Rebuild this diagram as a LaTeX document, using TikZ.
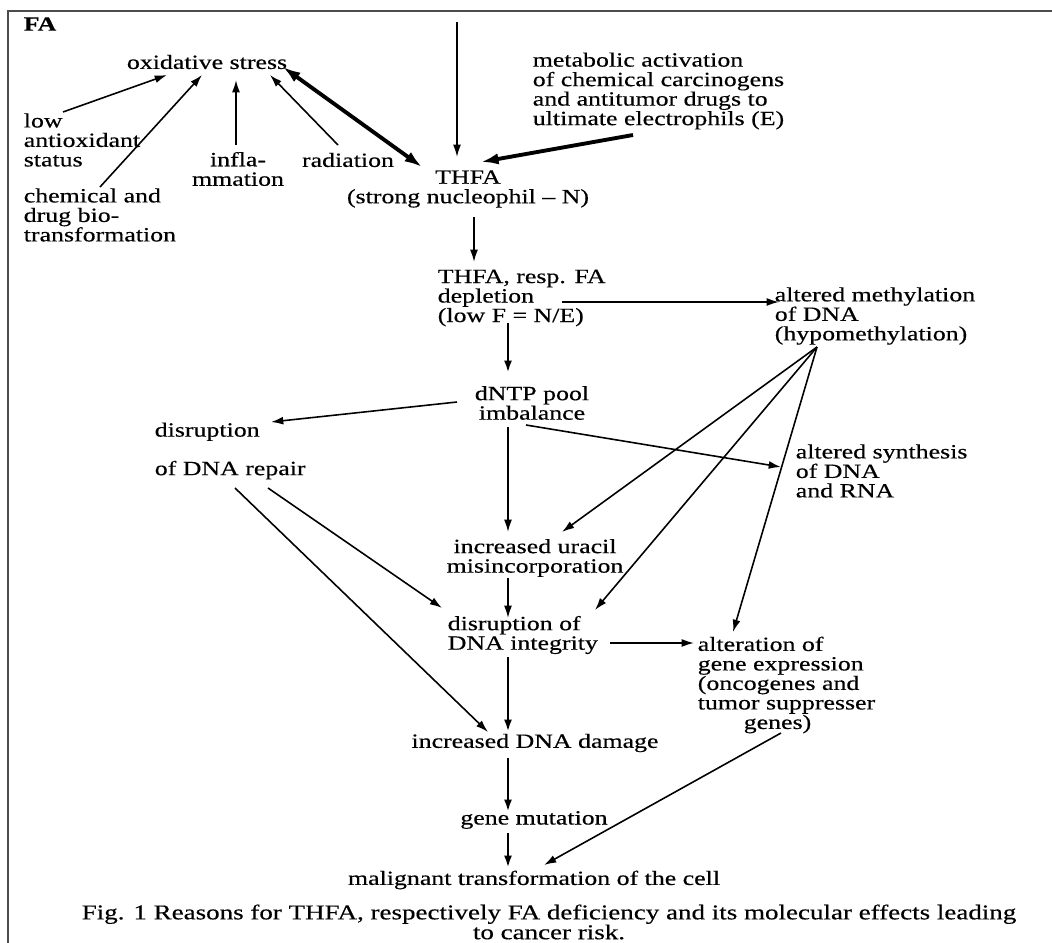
\documentclass[tikz,border=0pt]{standalone}
\usepackage{fontspec}
\setmainfont{Liberation Serif}[FakeStretch=1.28,FakeBold=0.4]
\usepackage{tikz}
\usetikzlibrary{calc,arrows.meta}
\def\txt{\node[inner sep=0pt]}

\begin{document}
\begin{tikzpicture}[x=0.02cm,y=-0.02cm,
  font=\fontsize{11.5}{11.1}\selectfont,
  >={Latex[length=7pt,width=4.5pt]},line width=0.9pt,
  main/.style={line width=1.4pt},
  fat/.style={line width=2.2pt,>={Latex[length=10pt,width=6.5pt]}}]
\useasboundingbox (0,0) rectangle (1052,943);
\draw[line width=1.2pt,black!70] (8,943) -- (8,11) -- (1052,11);
% causes
\txt[anchor=west] (fa) at (23,24) {\bfseries FA};
\txt (ox) at (207,62) {oxidative stress};
\txt[anchor=west,align=left] (low) at (23,140) {low\\antioxidant\\status};
\txt[anchor=west,align=left] (chem) at (23,215) {chemical and\\drug bio-\\transformation};
\txt[align=center] (infla) at (238,169) {infla-\\mmation};
\txt (rad) at (348,160) {radiation};
\txt[align=center] (thfa) at (468,189) {THFA\\(strong nucleophil -- N)};
\txt[anchor=west,align=left] (met) at (532,91) {metabolic activation\\of chemical carcinogens\\and antitumor drugs to\\ultimate electrophils (E)};
\coordinate (src) at (457,22);
% effects
\txt[anchor=west,align=left] (dep) at (437,298) {THFA, resp. FA\\depletion\\(low F = N/E)};
\txt[anchor=west,align=left] (meth) at (774,316) {altered methylation\\of DNA\\(hypomethylation)};
\txt[align=center] (dntp) at (532,403) {dNTP pool\\imbalance};
\txt[anchor=west,align=left] (disr) at (154,451) {disruption\\[0.38cm]of DNA repair};
\txt[anchor=west,align=left] (synth) at (795,471) {altered synthesis\\of DNA\\and RNA};
\txt[align=center] (ura) at (535,558) {increased uracil\\misincorporation};
\txt[anchor=west,align=left] (integ) at (447,635) {disruption of\\DNA integrity};
\txt[anchor=west,align=left] (alter) at (697,685) {alteration of\\gene expression\\(oncogenes and\\tumor suppresser\\\hspace*{0.92cm}genes)};
\txt (dmg) at (535,743) {increased DNA damage};
\txt (mut) at (534,820) {gene mutation};
\txt (mal) at (534,880) {malignant transformation of the cell};
\txt[align=center,font=\fontsize{12}{11.3}\selectfont] (cap) at (549,922) {Fig. 1 Reasons for THFA, respectively FA deficiency and its molecular effects leading\\to cancer risk.};
% arrows
\draw[->] ($(low.west)+(40,-28)$) -- ($(ox)+(-40,13)$);
\draw[->] ($(chem.west)+(77,-28)$) -- ($(ox)+(-5,13)$);
\draw[->] ($(infla)+(-2,-24)$) -- ($(ox)+(29,18)$);
\draw[->] ($(rad)+(-10,-15)$) -- ($(ox)+(63,13)$);
\draw[fat,<->] ($(ox)+(76,5)$) -- ($(thfa)+(-46,-22)$);
\draw[->] (src) -- ($(thfa)+(-11,-32)$);
\draw[fat,->] ($(met.west)+(101,44)$) -- ($(thfa)+(13,-27)$);
\draw[->] ($(thfa)+(6,28)$) -- ($(dep.west)+(37,-36)$);
\draw[->] ($(dep.west)+(125,4)$) -- ($(meth.west)+(5,-14)$);
\draw[main,->] ($(dep.west)+(71,25)$) -- ($(dntp)+(-24,-30)$);
\draw[->] ($(dntp)+(-75,-1)$) -- ($(disr.west)+(117,-29)$);
\draw[->] ($(dntp)+(-6,22)$) -- ($(synth.west)+(-14,-4)$);
\draw[->] ($(dntp)+(-24,24)$) -- ($(ura)+(-27,-26)$);
\draw[->] ($(meth.west)+(43,31)$) -- ($(ura)+(27,-26)$);
\draw[->] ($(meth.west)+(43,31)$) -- ($(integ.west)+(148,-25)$);
\draw[->] ($(meth.west)+(43,31)$) -- ($(alter.west)+(36,-53)$);
\draw[->] ($(ura)+(-27,20)$) -- ($(integ.west)+(61,-17)$);
\draw[->] ($(disr.west)+(114,37)$) -- ($(integ.west)+(-5,-27)$);
\draw[->] ($(disr.west)+(81,37)$) -- ($(dmg)+(-47,-11)$);
\draw[->] ($(integ.west)+(163,8)$) -- ($(alter.west)+(-3,-42)$);
\draw[main,->] ($(integ.west)+(61,22)$) -- ($(dmg)+(-27,-11)$);
\draw[main,->] ($(dmg)+(-27,15)$) -- ($(mut)+(-26,-8)$);
\draw[main,->] ($(mut)+(-26,13)$) -- ($(mal)+(-26,-12)$);
\draw[->] ($(alter.west)+(84,48)$) -- ($(mal)+(10,-15)$);
\end{tikzpicture}
\end{document}
